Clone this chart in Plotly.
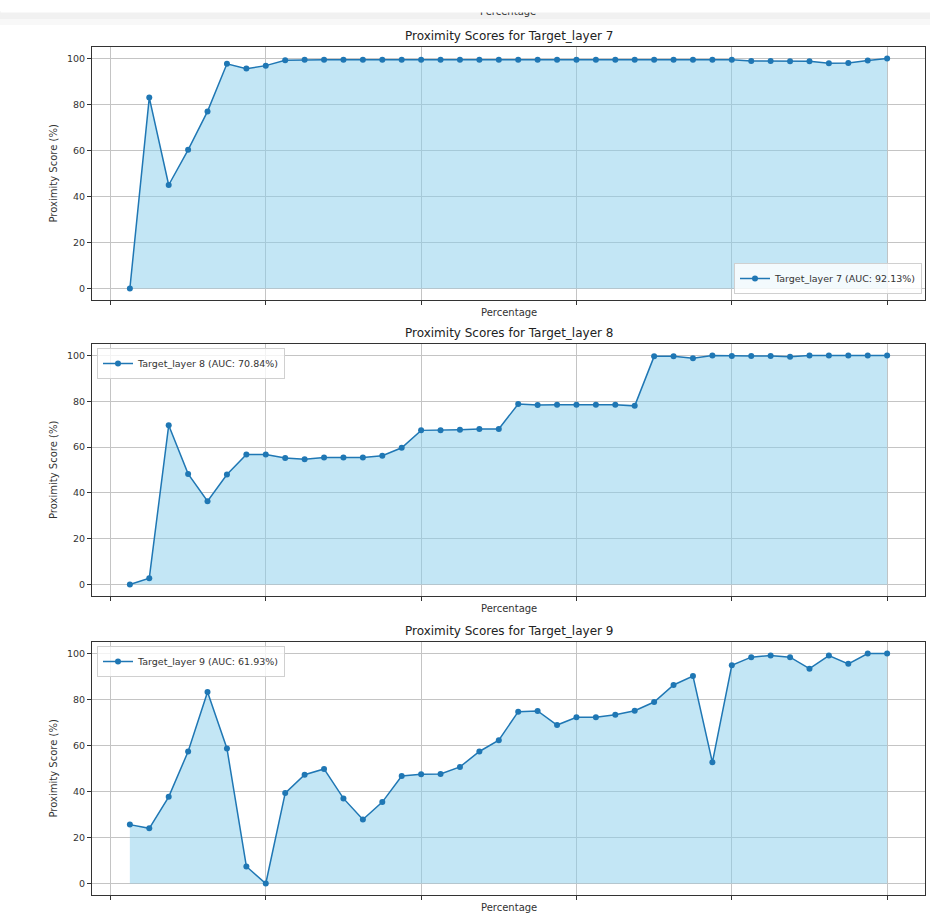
import plotly.graph_objects as go

# Percentage of the sequence processed (x positions of every sample)
percentages = [2.5, 5.0, 7.5, 10.0, 12.5, 15.0, 17.5, 20.0, 22.5, 25.0,
               27.5, 30.0, 32.5, 35.0, 37.5, 40.0, 42.5, 45.0, 47.5, 50.0,
               52.5, 55.0, 57.5, 60.0, 62.5, 65.0, 67.5, 70.0, 72.5, 75.0,
               77.5, 80.0, 82.5, 85.0, 87.5, 90.0, 92.5, 95.0, 97.5, 100.0]

layer7_scores = [0.0, 83.0, 45.0, 60.3, 77.0, 97.7, 95.6, 96.9, 99.2, 99.5,
                 99.5, 99.5, 99.5, 99.5, 99.5, 99.5, 99.5, 99.5, 99.5, 99.5,
                 99.5, 99.5, 99.5, 99.5, 99.5, 99.5, 99.5, 99.5, 99.5, 99.5,
                 99.5, 99.5, 98.9, 98.9, 98.8, 98.8, 97.9, 98.0, 99.1, 100.0]

layer8_scores = [0.0, 2.8, 69.5, 48.3, 36.4, 48.0, 56.8, 56.8, 55.2, 54.7,
                 55.5, 55.5, 55.5, 56.2, 59.7, 67.3, 67.3, 67.6, 67.9, 67.9,
                 78.8, 78.4, 78.5, 78.5, 78.5, 78.5, 78.0, 99.6, 99.6, 98.8,
                 100.0, 99.8, 99.8, 99.8, 99.4, 100.0, 100.0, 100.0, 100.0, 100.0]

layer9_scores = [25.6, 24.0, 37.7, 57.4, 83.3, 58.7, 7.4, 0.0, 39.3, 47.3,
                 49.8, 37.0, 27.8, 35.4, 46.7, 47.5, 47.6, 50.7, 57.4, 62.3,
                 74.7, 75.0, 68.9, 72.3, 72.3, 73.4, 75.1, 78.9, 86.3, 90.2,
                 52.7, 94.9, 98.4, 99.1, 98.4, 93.4, 99.1, 95.5, 100.0, 100.0]

layer_names = ["Target_layer 7", "Target_layer 8", "Target_layer 9"]
auc_values = [92.13, 70.84, 61.93]
y_ticks = [0, 20, 40, 60, 80, 100]
x_ticks = [0, 20, 40, 60, 80, 100]

W, H = 930, 915
FONT = "DejaVu Sans"
LINE_BLUE = "#1f77b4"
FILL_BLUE = "rgba(135,206,235,0.5)"


def px_x(p):
    return p / W


def px_y(p):
    return 1 - p / H


# panel boxes in pixels: (top, bottom)
panels = [(47, 300), (344, 596), (642, 895)]
left_px, right_px = 92, 925

# legend placement per panel
legend_specs = [
    dict(x=px_x(922), y=px_y(294), xanchor="right", yanchor="bottom"),
    dict(x=px_x(97), y=px_y(348), xanchor="left", yanchor="top"),
    dict(x=px_x(97), y=px_y(646), xanchor="left", yanchor="top"),
]

fig = go.Figure()
layout = dict(
    width=W, height=H,
    margin=dict(l=0, r=0, t=0, b=0),
    paper_bgcolor="white", plot_bgcolor="white",
    font=dict(family=FONT, size=10, color="#333333"),
    showlegend=True,
)

annotations = []
shapes = []
series = [layer7_scores, layer8_scores, layer9_scores]

for i, (scores, name, auc) in enumerate(zip(series, layer_names, auc_values)):
    n = i + 1
    xa = "x" if n == 1 else f"x{n}"
    ya = "y" if n == 1 else f"y{n}"
    leg = "legend" if n == 1 else f"legend{n}"
    top, bottom = panels[i]

    # shaded area under the curve
    fig.add_trace(go.Scatter(
        x=percentages, y=scores, mode="lines", fill="tozeroy",
        fillcolor=FILL_BLUE, line=dict(width=0), hoverinfo="skip",
        showlegend=False, xaxis=xa, yaxis=ya,
    ))
    # the score curve
    fig.add_trace(go.Scatter(
        x=percentages, y=scores, mode="lines+markers",
        name=f"{name} (AUC: {auc:.2f}%)",
        line=dict(color=LINE_BLUE, width=1.5),
        marker=dict(color=LINE_BLUE, size=6),
        xaxis=xa, yaxis=ya, legend=leg,
    ))

    axis_common = dict(
        showline=True, linecolor="#333333", linewidth=1, mirror=True,
        showgrid=True, gridcolor="#c4c4c4", gridwidth=1,
        zeroline=False, ticks="outside", ticklen=4, tickcolor="#333333",
        tickfont=dict(family=FONT, size=9.5, color="#333333"),
    )
    layout["xaxis" if n == 1 else f"xaxis{n}"] = dict(
        axis_common, domain=[px_x(left_px), px_x(right_px)],
        range=[-2.375, 104.875], tickvals=x_ticks, showticklabels=False,
        anchor=ya,
    )
    layout["yaxis" if n == 1 else f"yaxis{n}"] = dict(
        axis_common, domain=[px_y(bottom), px_y(top)],
        range=[-5, 105], tickvals=y_ticks, anchor=xa,
    )
    layout[leg] = dict(
        legend_specs[i], bgcolor="rgba(255,255,255,0.8)",
        bordercolor="#d0d0d0", borderwidth=1, itemwidth=30,
        font=dict(family=FONT, size=9.5, color="#333333"),
    )

    cx = px_x((left_px + right_px) / 2)
    # panel title
    annotations.append(dict(
        text=f"Proximity Scores for {name}", xref="paper", yref="paper",
        x=cx, y=px_y(top - 11), xanchor="center", yanchor="middle",
        showarrow=False, font=dict(family=FONT, size=12, color="#222222"),
    ))
    # x-axis label
    annotations.append(dict(
        text="Percentage", xref="paper", yref="paper",
        x=cx, y=px_y(bottom + 12), xanchor="center", yanchor="middle",
        showarrow=False, font=dict(family=FONT, size=10, color="#333333"),
    ))
    # y-axis label
    annotations.append(dict(
        text="Proximity Score (%)", xref="paper", yref="paper",
        x=px_x(53), y=px_y((top + bottom) / 2), xanchor="center",
        yanchor="middle", textangle=-90, showarrow=False,
        font=dict(family=FONT, size=10, color="#333333"),
    ))

# scrolled-away label of the panel above, under a light grey band
shapes.append(dict(type="rect", xref="paper", yref="paper",
                   x0=0, x1=1, y0=px_y(19), y1=px_y(11),
                   fillcolor="#f1f1f1", line=dict(width=0), layer="below"))
shapes.append(dict(type="rect", xref="paper", yref="paper",
                   x0=0, x1=1, y0=px_y(25), y1=px_y(19),
                   fillcolor="#f8f8f8", line=dict(width=0), layer="below"))
annotations.append(dict(
    text="Percentage", xref="paper", yref="paper",
    x=px_x(508), y=px_y(12), xanchor="center", yanchor="middle",
    showarrow=False, font=dict(family=FONT, size=10, color="#333333"),
))
annotations.append(dict(
    text=" ", xref="paper", yref="paper", x=0, y=1,
    xanchor="left", yanchor="top", width=W, height=11,
    bgcolor="white", borderpad=0, showarrow=False,
))

layout["annotations"] = annotations
layout["shapes"] = shapes
fig.update_layout(**layout)

fig.write_html("out.html")
